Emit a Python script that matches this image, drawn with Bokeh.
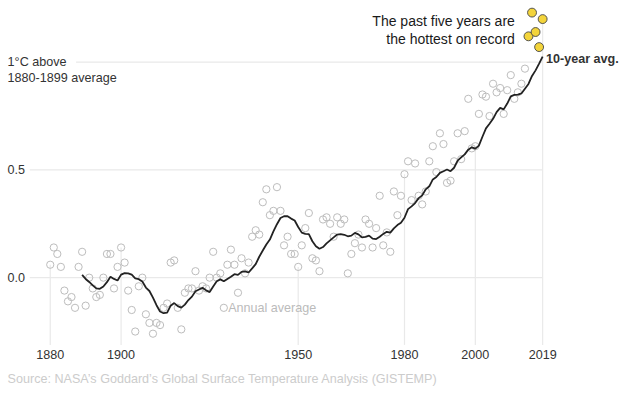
from bokeh.plotting import figure
from bokeh.models import Range1d
from bokeh.core.properties import value
from bokeh.embed import file_html
from bokeh.resources import INLINE

# ---------------- data ----------------
years = list(range(1880, 2020))
annual = [
    0.06, 0.14, 0.11, 0.05, -0.06, -0.11, -0.09, -0.14, 0.05, 0.12,   # 1880s
    -0.13, 0.00, -0.05, -0.09, -0.08, 0.00, 0.11, 0.11, -0.05, 0.05,  # 1890s
    0.14, 0.07, -0.06, -0.15, -0.25, -0.04, 0.00, -0.17, -0.21, -0.26,  # 1900s
    -0.21, -0.22, -0.14, -0.12, 0.07, 0.08, -0.14, -0.24, -0.07, -0.05,  # 1910s
    -0.05, 0.03, -0.06, -0.04, -0.05, 0.00, 0.12, 0.00, 0.02, -0.14,  # 1920s
    0.06, 0.13, 0.06, -0.07, 0.09, 0.02, 0.07, 0.19, 0.22, 0.20,      # 1930s
    0.35, 0.41, 0.29, 0.31, 0.42, 0.31, 0.15, 0.19, 0.11, 0.11,       # 1940s
    0.05, 0.15, 0.23, 0.30, 0.09, 0.08, 0.03, 0.27, 0.28, 0.25,       # 1950s
    0.19, 0.28, 0.25, 0.27, 0.02, 0.11, 0.16, 0.20, 0.14, 0.27,       # 1960s
    0.25, 0.14, 0.23, 0.38, 0.15, 0.21, 0.12, 0.40, 0.29, 0.38,       # 1970s
    0.48, 0.54, 0.36, 0.53, 0.38, 0.34, 0.40, 0.54, 0.61, 0.49,       # 1980s
    0.67, 0.62, 0.44, 0.45, 0.54, 0.67, 0.55, 0.68, 0.83, 0.60,       # 1990s
    0.61, 0.76, 0.85, 0.84, 0.75, 0.90, 0.86, 0.88, 0.76, 0.87,       # 2000s
    0.94, 0.83, 0.86, 0.90, 0.97, 1.12, 1.23, 1.14, 1.07, 1.20,       # 2010s
]

avg_years = list(range(1889, 2020))
avg10 = [
    0.013,                                                                    # 1889
    -0.006, -0.020, -0.036, -0.050, -0.052, -0.041, -0.021, 0.004, -0.006, -0.013,  # 1890s
    0.014, 0.021, 0.020, 0.014, -0.003, -0.007, -0.018, -0.046, -0.062, -0.093,     # 1900s
    -0.128, -0.157, -0.165, -0.162, -0.130, -0.118, -0.132, -0.139, -0.125, -0.104, # 1910s
    -0.088, -0.063, -0.055, -0.047, -0.059, -0.067, -0.041, -0.017, -0.008, -0.017, # 1920s
    -0.006, 0.004, 0.016, 0.013, 0.027, 0.029, 0.024, 0.043, 0.063, 0.097,          # 1930s
    0.126, 0.154, 0.177, 0.215, 0.248, 0.277, 0.285, 0.285, 0.274, 0.265,           # 1940s
    0.235, 0.209, 0.203, 0.202, 0.169, 0.146, 0.134, 0.142, 0.159, 0.173,           # 1950s
    0.187, 0.200, 0.202, 0.199, 0.192, 0.195, 0.208, 0.201, 0.187, 0.189,           # 1960s
    0.195, 0.181, 0.179, 0.190, 0.203, 0.213, 0.209, 0.229, 0.244, 0.255,           # 1970s
    0.278, 0.318, 0.331, 0.346, 0.369, 0.382, 0.410, 0.424, 0.456, 0.467,           # 1980s
    0.486, 0.494, 0.502, 0.494, 0.510, 0.543, 0.558, 0.572, 0.594, 0.605,           # 1990s
    0.599, 0.613, 0.654, 0.693, 0.714, 0.737, 0.768, 0.788, 0.781, 0.808,           # 2000s
    0.841, 0.848, 0.849, 0.855, 0.877, 0.899, 0.936, 0.962, 0.993, 1.026,           # 2010s
]

x_ticks = [1880, 1900, 1950, 1980, 2000, 2019]
x_tick_labels = ["1880", "1900", "1950", "1980", "2000", "2019"]
y_ticks = [0.0, 0.5]
y_tick_labels = ["0.0", "0.5"]
y_top_tick = 1.0
y_top_labels = ["1°C above", "1880-1899 average"]
n_hot = 5  # the five most recent (hottest) years
annotation = ["The past five years are", "the hottest on record"]
line_label = "10-year avg."
point_label = "Annual average"
point_label_year = 1929
source = "Source: NASA\u2019s Goddard\u2019s Global Surface Temperature Analysis (GISTEMP)"

assert len(annual) == len(years)
assert len(avg10) == len(avg_years)

# ---------------- layout ----------------
W, H = 627, 391
SX, SY = W / 643.0, H / 407.0        # design drawn on a 643x407 grid
FS = (SX + SY) / 2.0

PX_YEAR = 3.633 * SX      # pixels per year
PX_UNIT = 224.3 * SY      # pixels per degree
X1880 = 51.0 * SX         # px of year 1880
Y_ZERO = 288.5 * SY       # px of 0.0 from the top

x0 = 1880 - X1880 / PX_YEAR
x1 = x0 + W / PX_YEAR
ytop = Y_ZERO / PX_UNIT
ybot = ytop - H / PX_UNIT

def gx(px):   # design px -> year
    return x0 + px * SX / PX_YEAR

def gy(py):   # design px -> value
    return ytop - py * SY / PX_UNIT

def fsz(s):
    return value(f"{s * FS:.2f}px")

FONT = value("Liberation Sans")
GRID = "#e9e9e9"
TXT = "#333333"

p = figure(width=W, height=H, output_backend="svg", toolbar_location=None,
           x_range=Range1d(x0, x1), y_range=Range1d(ybot, ytop),
           min_border=0, outline_line_color=None)
p.axis.visible = False
p.grid.visible = False
p.background_fill_color = "white"
p.border_fill_color = "white"

grid_bottom = gy(358.5)
last_year = years[-1]

# horizontal grid lines
p.segment(x0=[gx(30)] * len(y_ticks), y0=y_ticks,
          x1=[last_year] * len(y_ticks), y1=y_ticks,
          line_color=GRID, line_width=1.2)
p.segment(x0=[gx(77.5)], y0=[y_top_tick], x1=[last_year], y1=[y_top_tick],
          line_color=GRID, line_width=1.2)

# vertical grid lines: from the bottom up to that year's value
tops = [annual[years.index(t)] for t in x_ticks]
p.segment(x0=x_ticks, y0=[grid_bottom] * len(x_ticks), x1=x_ticks, y1=tops,
          line_color=GRID, line_width=1.2)

# annual points
p.scatter(x=years[:-n_hot], y=annual[:-n_hot], size=7.5 * FS, marker="circle",
          fill_color=None, line_color="#bdbdbd", line_width=1)

# 10-year average line
p.line(x=avg_years, y=avg10, line_color="#222222", line_width=1.8)

# hottest five years
p.scatter(x=years[-n_hot:], y=annual[-n_hot:], size=9.2 * FS, marker="circle",
          fill_color="#f3d43b", line_color="#444444", line_width=0.9)

# y labels
p.text(x=[gx(7.3)] * len(y_ticks), y=y_ticks, text=y_tick_labels,
       text_font=FONT, text_font_size=fsz(13), text_color=TXT,
       text_align="left", text_baseline="middle")
p.text(x=[gx(7.3), gx(7.3)], y=[y_top_tick, gy(81)], text=y_top_labels,
       text_font=FONT, text_font_size=fsz(13), text_color=TXT,
       text_align="left", text_baseline="middle")

# x labels
p.text(x=x_ticks, y=[gy(368.5)] * len(x_ticks), text=x_tick_labels,
       text_font=FONT, text_font_size=fsz(13), text_color=TXT,
       text_align="center", text_baseline="middle")

# source
p.text(x=[gx(7.3)], y=[gy(394)], text=[source],
       text_font=FONT, text_font_size=fsz(13), text_color="#cccccc",
       text_align="left", text_baseline="middle")

# annual average label
ia = years.index(point_label_year)
p.text(x=[point_label_year], y=[annual[ia]], text=[point_label],
       text_font=FONT, text_font_size=fsz(13), text_color="#bbbbbb",
       text_align="left", text_baseline="middle", x_offset=4.5 * FS)

# 10-year avg label
p.text(x=[avg_years[-1]], y=[avg10[-1]], text=[line_label],
       text_font=FONT, text_font_size=fsz(13), text_font_style="bold",
       text_color=TXT, text_align="left", text_baseline="middle",
       x_offset=3.5 * FS, y_offset=3 * FS)

# annotation
p.text(x=[gx(527.5)] * 2, y=[gy(21.5), gy(39.8)], text=annotation,
       text_font=FONT, text_font_size=fsz(14.5), text_color="#1a1a1a",
       text_align="right", text_baseline="middle")

open("out.html", "w").write(file_html(p, INLINE))
